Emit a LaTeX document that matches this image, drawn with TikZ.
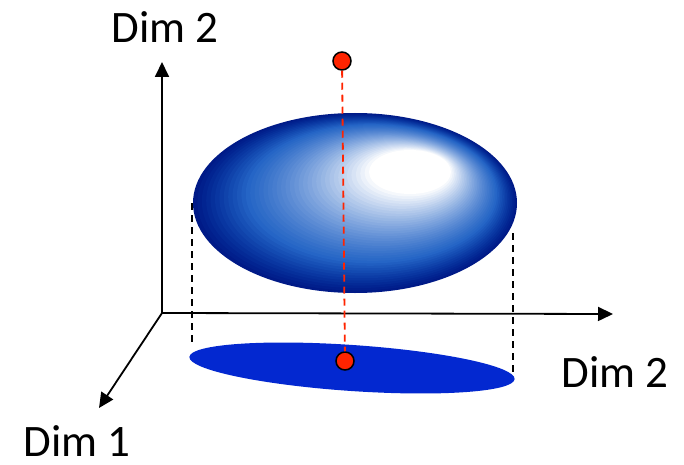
\documentclass[tikz,border=0pt]{standalone}
\usepackage{fontspec}
\setmainfont{Carlito}
\usetikzlibrary{arrows.meta}

\definecolor{ptred}{RGB}{255,36,0}
\definecolor{flatblue}{RGB}{3,40,208}
\definecolor{edgeblue}{RGB}{0,26,135}
\definecolor{midblue}{RGB}{0,75,188}

\begin{document}
\begin{tikzpicture}[x=1pt,y=1pt,
                    axis/.style={line width=1.8pt,-{Triangle[length=15pt,width=14pt]}},
                    proj/.style={line width=1.8pt,dash pattern=on 7pt off 5pt},
                    redproj/.style={proj,ptred},
                    pt/.style={circle,draw=black,line width=1.5pt,fill=ptred,inner sep=0pt,minimum size=18pt},
                    lbl/.style={font=\fontsize{45}{52}\selectfont,anchor=base,inner sep=0pt}]
  \useasboundingbox (0,0) rectangle (684,464);
  % axes
  \coordinate (o) at (162,151);
  \coordinate (ytip) at (162,402);
  \coordinate (xtip) at (613,150);
  \coordinate (ztip) at (99,56);
  % blob, drawn as bands from the rim to the highlight
  \foreach \i in {0,...,40}{
    \pgfmathsetmacro\tq{\i/40}
    \pgfmathsetmacro\wh{100*\tq^1.6}
    \pgfmathsetmacro\dk{max(0,100*(1-\tq/0.3))}
    \colorlet{bandc}{edgeblue!\dk!midblue}
    \fill[white!\wh!bandc]
      ({355+55*\tq},{261+31*\tq}) ellipse [x radius={162-121*\tq},y radius={90-68*\tq}];
  }
  \coordinate (bl) at (192,261);
  \coordinate (br) at (513,231);
  \coordinate (fl) at (192,119);
  \coordinate (fr) at (513,86);
  \draw[proj] (bl) -- (fl);
  \draw[proj] (br) -- (fr);
  % shadow on the floor
  \fill[flatblue] (352,96) ellipse [x radius=163,y radius=23,rotate=-3.9];
  \draw[axis] (o) -- (ytip);
  \draw[axis] (o) -- (xtip);
  \draw[axis] (o) -- (ztip);
  \node[pt] (top) at (342,403) {};
  \node[pt] (bot) at (345,103) {};
  \draw[redproj] (top) -- (bot);
  \node[lbl] (dimup) at (165,421) {Dim 2};
  \node[lbl] (dimright) at (615,77) {Dim 2};
  \node[lbl] (dimdown) at (77,8) {Dim 1};
\end{tikzpicture}
\end{document}
